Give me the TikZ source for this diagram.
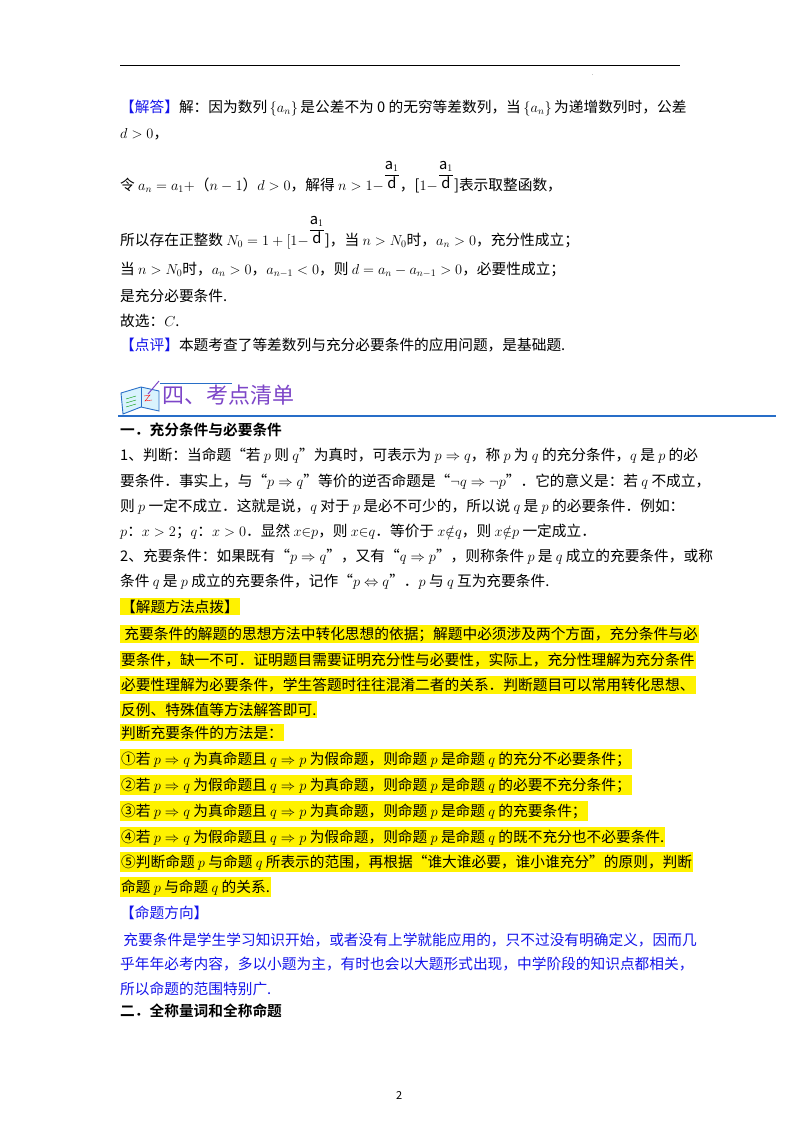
\documentclass[tikz,border=0pt]{standalone}
\usepackage{fontspec}
\setmainfont{Noto Sans CJK SC}
\newfontfamily\cjkb{Noto Sans CJK SC Bold}
\usetikzlibrary{calc}
\definecolor{ablue}{RGB}{20,20,235}
\definecolor{hpurple}{RGB}{125,70,200}
\definecolor{lblue}{RGB}{40,110,200}
\newcommand{\fr}{\raisebox{0.75em}{$\displaystyle\frac{\mathrm{a}_{1}}{\mathrm{d}}$}}
\begin{document}
\begin{tikzpicture}[x=1pt,y=-1pt,
  ln/.style={anchor=base west,inner sep=0pt,font=\fontsize{14.7}{16}\selectfont},
  hl/.style={ln,fill=yellow,inner ysep=2pt,inner xsep=1pt},
  bl/.style={ln,text=ablue}]
\useasboundingbox (0,0) rectangle (800,1132);
\fill[white] (0,0) rectangle (800,1132);
\draw[line width=0.8pt] (120,65) -- (680,65);
\node[ln,font=\tiny] (dot) at (592,76) {.};
\node[ln] (l1) at (120,112) {\textcolor{ablue}{【解答】}解：因为数列\,$\{a_n\}$\,是公差不为 0 的无穷等差数列，当\,$\{a_n\}$\,为递增数列时，公差};
\node[ln] (l2) at (120,138) {$d>0$，};
\node[ln] (l3) at (120,190) {令 $a_n=a_1+$（$n-1$）$d>0$，解得 $n>1-$\fr，[$1-$\fr]表示取整函数，};
\node[ln] (l4) at (120,245) {所以存在正整数 $N_0=1+[1-$\fr]，当 $n>N_0$时，$a_n>0$，充分性成立；};
\node[ln] (l5) at (120,274) {当 $n>N_0$时，$a_n>0$，$a_{n-1}<0$，则 $d=a_n-a_{n-1}>0$，必要性成立；};
\node[ln] (l6) at (120,301) {是充分必要条件.};
\node[ln] (l7) at (120,326) {故选：$C$.};
\node[ln] (l8) at (120,350) {\textcolor{ablue}{【点评】}本题考查了等差数列与充分必要条件的应用问题，是基础题.};
% book icon
\begin{scope}[shift={(121,381)}]
\draw[lblue,fill=cyan!15,line width=0.9pt] (0,12) -- (20,6) -- (38,10) -- (38,30) -- (20,26) -- (2,33) -- cycle;
\draw[lblue,line width=0.9pt] (20,6) -- (20,26);
\draw[hpurple,line width=1pt] (27,13) -- (38,0);
\draw[green!60!black] (5,18) -- (15,15) (5,22) -- (15,19) (5,26) -- (15,23);
\draw[red] (23,15) -- (29,14) -- (24,20) -- (31,19);
\end{scope}
\draw[lblue,line width=0.6pt] (160,383) -- (232,383);
\node[ln,text=hpurple,font=\fontsize{22}{24}\selectfont] (h) at (162,403) {四、考点清单};
\draw[lblue,line width=1.2pt] (118,416) -- (776,416);
\node[ln,font=\fontsize{14.7}{16}\cjkb] (s1) at (120,435) {一．充分条件与必要条件};
\node[ln] (a1) at (120,460) {1、判断：当命题“若 $p$ 则 $q$”为真时，可表示为 $p\Rightarrow q$，称 $p$ 为 $q$ 的充分条件，$q$ 是 $p$ 的必};
\node[ln] (a2) at (120,486) {要条件．事实上，与“$p\Rightarrow q$”等价的逆否命题是“$\neg q\Rightarrow\neg p$”．它的意义是：若 $q$ 不成立，};
\node[ln] (a3) at (120,511) {则 $p$ 一定不成立．这就是说，$q$ 对于 $p$ 是必不可少的，所以说 $q$ 是 $p$ 的必要条件．例如：};
\node[ln] (a4) at (120,536) {$p$：$x>2$；$q$：$x>0$．显然 $x{\in}p$，则 $x{\in}q$．等价于 $x{\notin}q$，则 $x{\notin}p$ 一定成立．};
\node[ln] (a5) at (120,561) {2、充要条件：如果既有“$p\Rightarrow q$”，又有“$q\Rightarrow p$”，则称条件 $p$ 是 $q$ 成立的充要条件，或称};
\node[ln] (a6) at (120,586) {条件 $q$ 是 $p$ 成立的充要条件，记作“$p\Leftrightarrow q$”．$p$ 与 $q$ 互为充要条件.};
\node[hl] (m0) at (120,612) {【解题方法点拨】};
\node[hl] (m1) at (120,639) {\ 充要条件的解题的思想方法中转化思想的依据；解题中必须涉及两个方面，充分条件与必};
\node[hl] (m2) at (120,665) {要条件，缺一不可．证明题目需要证明充分性与必要性，实际上，充分性理解为充分条件};
\node[hl] (m3) at (120,690) {必要性理解为必要条件，学生答题时往往混淆二者的关系．判断题目可以常用转化思想、};
\node[hl] (m4) at (120,715) {反例、特殊值等方法解答即可.\ };
\node[hl] (m5) at (120,738) {判断充要条件的方法是：};
\node[hl] (m6) at (120,764) {①若 $p\Rightarrow q$ 为真命题且 $q\Rightarrow p$ 为假命题，则命题 $p$ 是命题 $q$ 的充分不必要条件；};
\node[hl] (m7) at (120,790) {②若 $p\Rightarrow q$ 为假命题且 $q\Rightarrow p$ 为真命题，则命题 $p$ 是命题 $q$ 的必要不充分条件；};
\node[hl] (m8) at (120,816) {③若 $p\Rightarrow q$ 为真命题且 $q\Rightarrow p$ 为真命题，则命题 $p$ 是命题 $q$ 的充要条件；};
\node[hl] (m9) at (120,842) {④若 $p\Rightarrow q$ 为假命题且 $q\Rightarrow p$ 为假命题，则命题 $p$ 是命题 $q$ 的既不充分也不必要条件.};
\node[hl] (m10) at (120,867) {⑤判断命题 $p$ 与命题 $q$ 所表示的范围，再根据“谁大谁必要，谁小谁充分”的原则，判断};
\node[hl] (m11) at (120,892) {命题 $p$ 与命题 $q$ 的关系.\ };
\node[bl] (d0) at (120,918) {【命题方向】};
\node[bl] (d1) at (120,945) {\ 充要条件是学生学习知识开始，或者没有上学就能应用的，只不过没有明确定义，因而几};
\node[bl] (d2) at (120,969) {乎年年必考内容，多以小题为主，有时也会以大题形式出现，中学阶段的知识点都相关，};
\node[bl] (d3) at (120,994) {所以命题的范围特别广.};
\node[ln,font=\fontsize{14.7}{16}\cjkb] (s2) at (120,1016) {二．全称量词和全称命题};
\node[ln,font=\fontsize{11}{12}\selectfont] (pg) at (396,1099) {2};
\end{tikzpicture}
\end{document}
